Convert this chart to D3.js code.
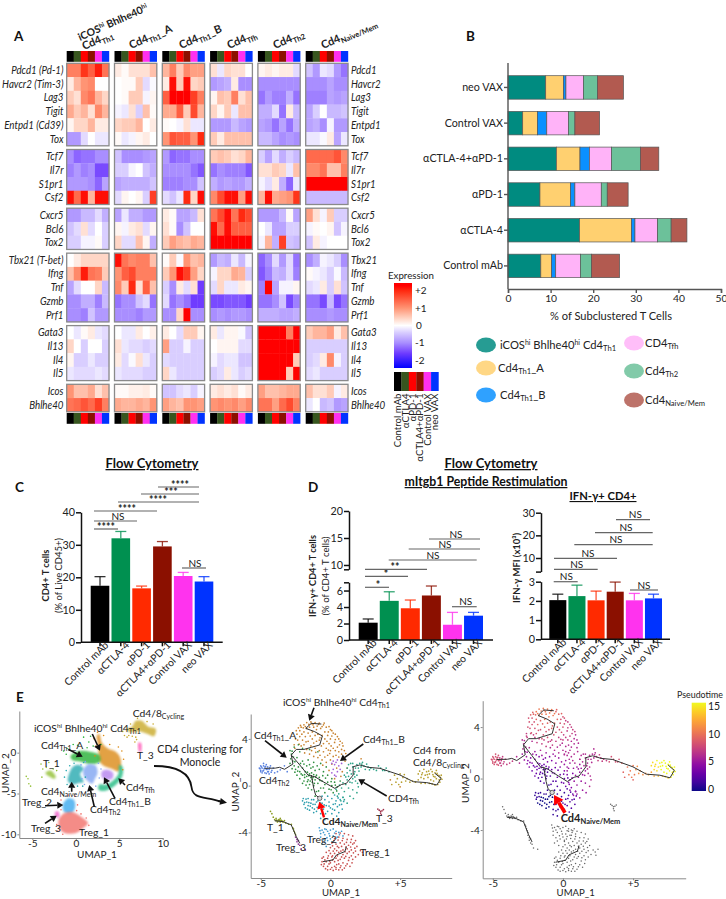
<!DOCTYPE html>
<html><head><meta charset="utf-8">
<script src="https://cdnjs.cloudflare.com/ajax/libs/d3/7.8.5/d3.min.js"></script>
<style>
html,body{margin:0;padding:0;background:#fff}
svg{display:block}
text{font-family:Lato,"Open Sans",sans-serif;fill:#222}
</style></head><body>
<svg id="c" width="726" height="899"></svg>
<script>
// ---------- A: heatmap ----------
const genes=["Pdcd1","Havcr2","Lag3","Tigit","Entpd1","Tox","Tcf7","Il7r","S1pr1","Csf2","Cxcr5","Bcl6","Tox2","Tbx21","Ifng","Tnf","Gzmb","Prf1","Gata3","Il13","Il4","Il5","Icos","Bhlhe40"];
const geneLabelsLeft=["Pdcd1 (Pd-1)","Havcr2 (Tim-3)","Lag3","Tigit","Entpd1 (Cd39)","Tox","Tcf7","Il7r","S1pr1","Csf2","Cxcr5","Bcl6","Tox2","Tbx21 (T-bet)","Ifng","Tnf","Gzmb","Prf1","Gata3","Il13","Il4","Il5","Icos","Bhlhe40"];
const geneGroupOf=[0,0,0,0,0,0,1,1,1,1,2,2,2,3,3,3,3,3,4,4,4,4,5,5];
const conditions=["Control mAb","αCTLA4","αPD-1","αCTLA4+αPD-1","Control VAX","neo VAX"];
const strip=["#000000","#37561f","#ff0000","#8b1000","#ff30f0","#0033ff"];
const clusters=["th1hi","th1a","th1b","tfh","th2","naive"];
const heatTh1Hi=[[1.2,1.2,1.9,1.5,2.1,1.3],[.2,.7,1,1.1,0,0],[.5,.3,1.1,1.3,.7,.4],[.8,.5,.7,.3,1.1,.7],[.1,.4,.4,.7,.2,.2],[-.9,-.9,-.3,0,-.2,-.2],[-1,-1.3,-1.2,-1.2,-1,-1],[-1.1,-.9,-1.1,-1,-1.5,-1.5],[-.9,-.9,-.9,-1,-1.3,-.8],[2.2,1.4,2.2,.7,2.2,2.2],[-.9,-.9,-.6,-.6,-.3,-.7],[-.5,-.3,.3,-.3,0,-.4],[-.4,-.4,-.1,-.1,.05,-.4],[0,.2,.4,.4,.4,.4],[.6,1.1,2.1,1.3,1.2,.5],[-.8,-.3,0,0,.4,-.6],[-1,-1,-.7,-.7,-1.1,-.6],[-1,-1,-1.1,-.5,-.9,-.9],[0,-.2,.05,.2,-.2,-.3],[.4,0,-.4,0,0,-.4],[.1,-.4,-.4,-.2,-.4,-.4],[-.2,-.3,-.3,-.3,-.2,-.3],[1,.6,.6,.8,.3,.6],[1.3,1.4,1.6,1.4,1.8,1.2]];
const heatTh1A=[[.2,.05,.3,.3,.3,.6],[0,.05,.05,.5,-.3,-.05],[0,.05,.5,.5,-.1,.1],[-.1,-.2,.3,-.4,.6,.05],[.4,.5,.5,.7,0,.2],[.05,-.2,-.1,.1,.2,0],[-.5,-1,-1,-1,-.9,-.8],[-.4,-.4,-.1,0,-.5,-.7],[-.8,-.7,-.7,-.7,-.7,-.5],[-.3,.1,0,.1,-.4,1.8],[-.8,-.2,-.7,-.7,-.9,-.9],[.1,-.1,.2,.3,-.3,.1],[.4,-.3,-.3,.6,.1,-.7],[2.2,1.3,1.1,1.2,1.2,.6],[1,1.5,1.7,1.2,1.2,1.2],[1.1,.5,2,.3,1.5,.6],[-1.2,-1,-1,-.5,-.3,-1.2],[-1,-1,-1,-1.1,-.9,-.9],[0,-.2,-.2,.2,0,.15],[.3,-.2,-.3,-.3,-.4,-.3],[.2,-.3,-.05,.3,-.2,-.4],[-.2,-.3,-.3,-.3,-.4,-.4],[.05,.05,.15,.15,.2,.05],[.8,.7,.7,.8,.7,1]];
const heatTh1B=[[.7,1.2,.5,1.1,.9,.9],[.2,2.2,.5,2.2,.4,.5],[1.5,2.3,2.3,2.3,1.8,1.2],[.8,.8,1.5,.5,1.7,.7],[.05,0,-.1,.3,-.2,-.2],[1,1.6,1.5,1.5,1,2],[-.9,-1.3,-1.2,-1.2,-1,-1],[-1,-1,-1,-1,-1.2,-1.4],[-1.1,-1.1,-1.1,-1,-1,-.5],[-.3,-.5,-.2,2,.4,2.2],[.2,.05,-.8,-.8,-.6,.3],[.3,.05,-1,-.5,0,0],[.5,.9,.7,.6,.8,.7],[.05,.5,-.05,1,.6,.7],[.5,1,2.2,1.8,.9,.4],[-.4,-1,.2,-.3,.3,-1.6],[-.3,-1.2,-1,-1.2,-1.6,-1.6],[-1,-1,.4,2.3,-1,-1],[.2,0,-.3,.5,.5,.1],[.9,-.4,-.4,-.1,-.4,-.4],[-.3,-.4,-.4,-.4,-.4,-.4],[.4,-.2,-.4,-.4,-.4,-.4],[-.5,-.5,-.3,-.2,-.4,-.1],[.9,.7,.6,1,1,.9]];
const heatTfh=[[.3,-.2,.4,.3,.3,0],[-.9,-.8,-.7,.2,-1,-1],[.1,.6,.5,1.2,.3,.6],[.4,.1,.5,-.2,.6,.6],[-.9,-.9,-.9,-.6,-.8,-.9],[.5,.2,.6,.6,.6,.6],[.5,.6,.5,.3,.4,.7],[-1.2,-1,-1.1,-1.1,-1.1,-1.4],[-.7,-.9,-.8,-.9,-.9,-.7],[1.1,1.7,2.2,2.2,.9,2.2],[1.3,1.7,2.2,1.3,2,1.7],[2.2,1.4,2.2,1.5,1.5,1.5],[2.3,2.3,2.3,2.3,2.3,2.3],[-.9,-.6,-.7,-.2,-.6,-.1],[-.1,.4,.4,.8,.7,-.4],[-.3,.4,-.2,-.2,.2,.1],[-1.5,-1.5,-1.4,-1.4,-1.4,-1.6],[-1,-.9,-1,-.9,-.9,-1],[.2,-.2,.1,.1,-.05,-.5],[0,.1,.1,.1,-.3,-.3],[-.1,-.3,-.2,-.2,-.5,-.5],[-.4,-.3,.2,-.2,-.4,-.3],[.2,.3,.2,.3,.05,.2],[1,1.1,1,1.1,.9,1.1]];
const heatTh2=[[.1,.2,.1,.2,.2,-.3],[-1,-1,-1,-1,-1,-1],[-1.2,-.9,-1.1,-1.1,-.7,-1.2],[-.7,-.7,-.3,-1.2,.2,-.6],[-.8,-.9,-1.2,-.8,-1.2,-.7],[-.6,-.6,-.8,-1,-.9,-1],[-.4,-.8,-.3,-.7,-.4,-.6],[.3,.3,.5,.4,-.2,.6],[-.1,-.3,.2,-.7,-1.3,-.2],[.7,2.2,.8,.9,1,1.9],[-.9,-.9,-.9,-.6,.05,-.8],[0,-.2,-.8,-.8,-.4,-.4],[-.1,.7,-.7,1.8,-.5,-.6],[-1.3,-1,-.3,-.9,-.3,-1.2],[-1.4,-1.1,-.6,-.7,-.3,-1.1],[-1.1,2.3,-.8,-.1,-.1,.1],[-1.2,-1.2,-1,-.5,-1.5,-1.1],[-.7,-.7,-.7,-.8,-.8,-.7],[2.3,2.3,2.3,2.3,1.2,2.3],[2.3,2.3,2.3,2.3,2.3,2.3],[2.3,2.3,2.3,2.3,2.3,.5],[2.3,2.3,2.3,2.3,.5,2.3],[.9,.6,.6,.7,.8,.8],[1.3,1.3,.9,1.4,1.7,1.2]];
const heatNaive=[[-.5,-.9,-.2,-.3,-.9,-1.2],[-1,-1,-1,-.8,-1,-1],[-1.1,-1.1,-1.1,-.8,-.9,-.8],[-.8,-.4,0,-.6,-.6,-.5],[-.8,-.7,-1,-.1,-.9,-.9],[-.2,-.2,-.05,.2,-.8,-.2],[1.4,1.4,1.4,1.4,1.6,1.1],[1.1,1.1,1.3,.6,.6,1.2],[2.3,2.3,2.3,2.3,2.3,2.3],[-.6,-.6,-.6,-.6,-.6,-.6],[.9,.3,-.1,.5,-.4,-.4],[-.1,.05,0,.1,-.5,-.1],[-.5,.2,-.1,0,0,0],[-1,-.7,-.1,-.2,-.4,-1],[.05,-.1,-.2,-.4,-.05,-.6],[-.3,-.2,.2,-.4,.3,-.5],[-1.2,-1.2,-1.5,-.6,-1.5,-1.2],[-1,-1,-1,-.9,-1,-1],[.5,.7,.7,.9,.2,.6],[-.4,-.4,-.4,-.4,-.4,-.4],[-.4,-.3,.2,1.1,-.1,-.4],[-.3,-.2,-.4,-.4,-.4,-.4],[.6,.3,.3,.5,-.1,.2],[-.2,0,-.6,-.5,-.9,-.8]];
const heatByCluster=[heatTh1Hi,heatTh1A,heatTh1B,heatTfh,heatTh2,heatNaive];
const exprTicks=[2,1,0,-1,-2];

// ---------- B: stacked bars ----------
const bCategories=["neo VAX","Control VAX","αCTLA-4+αPD-1","αPD-1","αCTLA-4","Control mAb"];
const bSubsets=["iCOS","Th1A","Th1B","Tfh","Th2","Naive"];
const bColors=["#008b80","#ffd070","#0a90ff","#ffb3f8","#6cc19a","#b25a50"];
const bICOS=[8.85,3.45,11.35,7.5,16.8,7.7];
const bTh1A=[4.15,3.45,5.55,7.2,12.2,2.55];
const bTh1B=[.6,2.2,2.2,1,.8,.95];
const bTfh=[4.1,5.1,5.2,6.2,5.3,5.8];
const bTh2=[3.3,1.5,6.8,1.4,3.2,2.6];
const bNaive=[6.1,5.8,4.3,4.9,3.7,6.6];

// ---------- C / D: flow cytometry ----------
const flowGroups=["Control mAb","αCTLA-4","αPD-1","αCTLA4+αPD-1","Control VAX","neo VAX"];
const flowColors=["#000000","#009050","#ff2a00","#8b1000","#ff33ee","#0033ff"];
const cMeans=[17.4,32,16.6,29.5,20.4,18.7];
const cErrTop=[20.2,34.1,17.3,31,21.5,20.2];
const dMeans=[2.1,4.75,3.85,5.4,1.85,2.95];
const dErrTop=[2.55,5.85,4.85,6.55,3.35,3.35];
const mfiMeans=[2.04,2.25,2.03,2.48,2.03,2.13];
const mfiErrTop=[2.35,2.82,2.51,2.98,2.39,2.35];

// ---------- E: UMAP (left) cluster outlines and points, in UMAP units ----------
const e1Orange=[[2.4,2.0],[2.7,2.3],[3.0,1.2],[3.7,.5],[4.6,.1],[5.1,-.6],[5.2,-1.6],[4.9,-2.3],[4.2,-2.0],[3.2,-1.6],[2.7,-1.0],[2.6,.3],[2.5,1.2]];
const e1Th1A=[[-.6,-.4],[.5,.2],[1.6,.1],[2.7,-.3],[2.8,-1.1],[1.8,-1.4],[.6,-1.1],[-.4,-.9]];
const e1Naive=[[-.8,-2.7],[-.3,-1.7],[.4,-1.5],[.9,-2],[.5,-2.6],[.9,-3.6],[.4,-3.7],[-.3,-3.9],[-.9,-3.5]];
const e1Th2=[[.9,-2],[1.5,-1.4],[2.3,-1.6],[2.5,-2.5],[2.2,-3.2],[1.9,-3.8],[1.3,-3.4],[.9,-2.8]];
const e1Th1B=[[3,-2.3],[3.6,-2.1],[4.3,-2.5],[4.2,-3.2],[3.5,-3.3],[3,-3]];
const e1Tfh=[[5,-1.5],[5.4,-1.8],[5.3,-3],[4.3,-4.2],[3.2,-4.7],[2.6,-4.5],[2.7,-3.9],[3.5,-3.9],[4.3,-3.4],[4.9,-2.6]];
const e1Treg2=[[-1.5,-6.4],[-.9,-5.6],[-.2,-5.8],[-.1,-6.8],[-.5,-7.4],[-1.3,-7.3]];
const e1Treg1=[[-2,-8.3],[-1.3,-7.4],[-.3,-7.3],[.8,-8],[1.4,-8.6],[.9,-9.2],[.1,-9.8],[-1.1,-9.9],[-1.8,-9.4]];
const e1T1=[[-3.5,-2.5],[-2.9,-2.2],[-2.3,-3],[-2.5,-3.2],[-3.1,-2.9]];
const e1Cycling=[[5.7,2.9],[6.4,3.1],[6.9,3.9],[7.6,3.9],[8.3,3.2],[9.2,2.9],[9,2],[8.2,2.3],[7.4,2.6],[6.3,2.5]];
const e1T3=[[7.2,1.2],[7.5,1.2],[7.5,.1],[7.3,.1]];
const e1Treg3=[[-2.4,-7.3],[-2,-7.2],[-1.9,-7.9],[-2.3,-7.9]];
const e1Blobs=[[e1Orange,"#dc8a12"],[e1Th1A,"#25b135"],[e1Naive,"#27a9b0"],[e1Th2,"#80a4f2"],[e1Tfh,"#1fba80"],[e1Th1B,"#b583ee"],[e1Treg2,"#3ba9ee"],[e1Treg1,"#f2706a"],[e1T1,"#92bf33"],[e1Cycling,"#c9aa2a"],[e1T3,"#ff55b5"],[e1Treg3,"#f05cc8"]];
const e1ScatterGreen=[[-1.4,.2],[-1,.5],[-.3,1],[.2,.9],[1.3,.6],[2,.8],[1.5,1.3],[-1.1,-.2],[.9,1.9],[1.7,2],[.2,-.1],[2.9,1]];
const e1ScatterOrange=[[2.1,1.7],[2.3,.8],[2.2,-.4],[5.3,.2],[5.5,-.8],[4.9,.7],[3.9,1],[3.2,2.1],[2.5,2.5],[5.4,-2.1]];
const e1ScatterTeal=[[-1.1,-2.2],[-.7,-1.6],[-.2,-1.3],[-1,-3.9],[.2,-4.1],[.8,-4.1],[1.1,-3],[-.5,-4.3],[-1.3,-3],[.9,-1.2]];
const e1ScatterBlue=[[.6,-1.5],[1.1,-1.1],[2.6,-1.3],[2.7,-3.1],[1,-3.9],[2.3,-4.1],[.7,-3.2],[2.9,-2]];
const e1ScatterT1=[[-4,-1.4],[-3.8,-2],[-3.4,-1.8],[-3.1,-1.2],[-2.6,-2],[-5.7,-2.9],[-5.5,-3.2],[-5.4,-3.8],[-5.2,-4.1],[-3.9,-3],[-2.2,-2.2]];
const e1ScatterCycling=[[5.4,2.6],[5.6,2.1],[5.9,1.9],[6.1,2.1],[6.5,2],[6.9,1.9],[7,1.6],[6.8,1.3],[8.2,3.8],[8.9,3.5],[7.1,4.2],[6.3,3.5]];
const e1ScatterTreg=[[-2.2,-8.8],[-2.1,-9.6],[-1.5,-10],[1.5,-8.9],[1.2,-8],[.6,-7.5],[-.1,-5.3],[-.8,-5.2],[-1.7,-5.8],[-1.7,-7],[.2,-6.4],[.1,-7.1]];

// ---------- E: Monocle UMAP points [x, y, pseudotime] ----------
const mICOS=[[-2.6,3.5,7],[-2.5,4,8],[-2.4,4.4,8],[-2.2,4.7,8],[-2.1,5,9],[-1.9,5.2,10],[-1.7,5.4,10],[-1.4,5.45,10],[-1.1,5.4,10],[-.8,5.35,10],[-.5,5.2,9],[-.3,5,9],[0,4.8,8],[.2,4.5,7],[.5,4.2,7],[.7,3.8,7],[.9,3.4,6],[1,3,6],[.8,2.7,6],[1,2.4,6],[-2.2,4.2,8],[-1.9,4.6,9],[-1.7,4.9,10],[-1.5,5,10],[-1.2,5,10],[-1,4.8,10],[-.7,4.9,10],[-.4,4.6,9],[-.2,4.3,8],[0,4,8],[.3,3.7,7],[.5,3.3,7],[.6,2.9,6],[-2,3.9,8],[-1.8,4.2,9],[-1.6,4.5,9],[-1.3,4.6,10],[-1.1,4.3,9],[-.9,4.4,9],[-.6,4.3,9],[-.4,4,8],[-.1,3.6,8],[.2,3.2,7],[.4,2.6,6],[-1.9,3.5,8],[-1.6,3.8,8],[-1.3,4,9],[-1,3.8,8],[-.8,3.9,9],[-.5,3.6,8],[-.3,3.2,7],[0,3,7],[.2,2.5,6],[-1.7,3.1,7],[-1.4,3.4,8],[-1.1,3.2,8],[-.8,3,7],[-.5,2.9,7],[-.2,2.6,6],[0,2.2,6],[-1.5,2.7,7],[-1.2,2.5,7],[-.9,2.4,6],[-.6,2.2,6],[-.3,2,6],[-2.3,4.95,9],[-1.95,4.95,9],[-1.55,5.25,10],[-1.25,5.2,10],[-.95,5.1,10],[-.6,5.05,10],[-.15,4.6,8],[.1,4.25,8],[.35,3.95,7],[-2.35,3.9,8],[-2.05,4.4,8],[-1.45,4.25,9],[-.75,4.1,9],[-.25,3.8,8],[.05,3.4,7],[.65,3.5,7],[.8,3.1,6],[-2.45,4.7,8],[-2.15,5.15,9],[-1.8,5.05,10],[-1.35,5.3,10],[-.85,5.25,10],[-.45,5.35,9],[-.1,5.05,9],[.1,4.7,8],[.35,4.4,7],[.6,4,7],[.85,3.65,7],[1.1,2.75,6],[1.05,2.1,6],[.6,2.45,6],[.35,3,7],[-.15,3.05,7],[-.65,3.4,8],[-1.2,3.65,8],[-1.75,3.75,8],[-2.25,3.55,8],[-2.55,3.2,7],[-.05,2.75,6],[-.4,2.45,6],[-.75,2.6,7],[-1.05,2.85,7],[-1.35,3,7],[-1.85,2.8,7],[-2.1,3.4,7],[.1,1.85,6],[.45,1.5,6],[.85,1.2,6],[1.2,1.5,6],[-.55,1.75,5],[-.1,1.3,5],[.3,.6,5],[.75,.8,5],[2.2,2.3,6],[5,-.1,9],[4.3,.5,9]];
const mTh1A=[[-2.9,3,6],[-2.8,2.7,6],[-2.85,2.3,6],[-2.7,2.1,5],[-2.9,1.9,5],[-2.6,1.7,5],[-2.5,1.4,4],[-2.3,1.6,4],[-2.2,1.2,4],[-2,1.5,4],[-2.1,1,3],[-1.8,1.2,3],[-1.7,.8,3],[-1.6,.5,3],[-1.5,1,3],[-1.4,.7,2],[-1.3,.3,2],[-1.5,.1,2],[-1.2,0,2],[-1.1,.5,2],[-1,.9,3],[-.8,.7,3],[-.9,.2,2],[-.6,.4,3],[-.4,.1,3],[-.7,-.2,2],[-1,-.5,1],[-1.1,-.9,1],[-1.9,.4,3],[-2.2,.6,3],[-2.4,.9,4],[-1.7,1.7,4],[-1.4,1.5,4],[-1.1,1.3,4],[-.8,1.4,4],[-.5,1.2,4],[-.2,.9,4],[-.3,1.6,5],[-.7,1.9,5],[-1.2,2,5],[-1.6,2.2,6],[-2,2.1,5],[-2.4,2.4,6],[-2.2,2.9,6],[-2,3.2,7],[-.2,.3,3],[.1,0,3],[.3,.3,4],[.1,.6,4],[-.1,-.3,3],[.5,-.1,4],[.2,-.6,3],[.7,.4,4],[-1.55,.85,3],[-1.35,1.1,3],[-1.65,.35,2],[-1.25,.7,2],[-1.45,.4,2],[-1.15,.2,2],[-2.75,2.95,6],[-2.65,2.45,6],[-2.55,2.05,5],[-2.35,1.25,4],[-2,.9,3],[-1.85,.7,3],[-2.6,3.3,7],[-2.3,3.5,8],[-1.5,3.1,8],[-.9,2.9,7],[-2.75,1.45,5],[-2.55,1.15,4],[-2,.2,3],[-1.75,.05,2],[-1.6,-.2,2],[-1.35,-.35,2],[-1.25,1.6,4],[-.95,1.7,4],[-.55,.85,3],[-.75,.45,3],[-.35,.65,3],[.05,.35,3],[-.5,-.2,2],[-.85,-.45,2],[-.4,-.6,2],[.05,-.35,3],[.35,.05,3],[.45,-.45,4],[-1.9,1.85,4],[-2.15,1.9,5],[-1.5,1.8,5],[-1.05,.75,2],[-1.2,.95,3],[-1.65,1.15,3],[-1.85,.95,3],[-1.3,.55,2]];
const mNaive=[[-2,-1.3,1],[-1.9,-1.6,1],[-1.8,-1.9,0],[-1.7,-1.4,1],[-1.6,-1.7,0],[-1.5,-2.1,0],[-1.4,-1.5,0],[-1.3,-1.9,0],[-1.2,-1.2,1],[-1.1,-1.6,0],[-1,-2.2,0],[-.9,-1.3,0],[-.8,-1.8,0],[-.7,-2.4,1],[-.6,-1.5,0],[-.5,-2,1],[-.4,-1.2,1],[-.3,-1.7,1],[-.2,-2.2,1],[-.1,-1.4,1],[0,-1.9,2],[.1,-1.1,1],[.2,-1.6,2],[.3,-2.1,2],[.4,-1.3,2],[.5,-1.8,2],[.6,-2.3,2],[.7,-1.2,2],[.8,-1.6,2],[.9,-1,2],[-.7,-2.8,1],[-.5,-2.5,1],[.1,-2.4,2],[-1.6,-1.1,1],[-1.2,-2.3,0],[-.2,-.9,2],[.3,-.8,2],[-.6,-.9,1],[-1.95,-1.1,1],[-1.75,-1.15,1],[-1.85,-1.45,1],[-1.55,-1.45,0],[-1.65,-2,0],[-1.35,-1.2,1],[-1.45,-1.75,0],[-1.25,-1.6,0],[-1.15,-2,0],[-1,-1.4,0],[-.95,-1.85,0],[-.75,-1.45,0],[-.65,-2,1],[-.45,-1.65,1],[-.35,-2.4,1],[-.1,-1.75,1],[.15,-2,2],[.35,-1.55,2],[.65,-1.65,2],[.55,-1.05,2],[.95,-1.35,2],[.85,-2,2],[.45,-2.6,2],[-.4,-2.9,1]];
const mTh2=[[-5.1,1.5,8],[-5,1.3,8],[-5,1.7,8],[-4.9,1.1,8],[-4.9,1.5,8],[-4.8,1.9,8],[-4.8,1.3,8],[-4.7,1.6,8],[-4.7,1.1,8],[-4.6,1.4,8],[-4.6,1.8,8],[-4.5,1.2,7],[-4.5,1.6,7],[-4.4,1,7],[-4.4,1.4,7],[-4.3,1.7,7],[-4.2,1.3,7],[-4.1,1.5,7],[-5,1.2,8],[-4.8,1.7,8],[-4.6,1.05,8],[-4,1.1,7],[-3.8,1.2,7],[-3.6,1.35,7],[-3.3,1.7,6],[-3.1,1.2,6],[-5.05,1.45,8],[-4.95,1.6,8],[-4.85,1.25,8],[-4.75,1.45,8],[-4.65,1.65,8],[-4.55,1.4,8],[-4.45,1.2,7],[-4.35,1.55,7],[-4.25,1.15,7]];
const mTh1B=[[.1,1.9,6],[.2,2.1,6],[.3,1.8,6],[.4,2,6],[.5,2.2,6],[.6,1.7,6],[.1,1.1,5],[.3,.9,5],[.5,1.2,5],[.4,.8,5],[.7,1.4,6],[.2,1.4,5],[.8,1.9,6]];
const mTfh=[[.4,-.3,4],[.6,-.7,4],[.8,-.2,5],[1,-.5,5],[1.1,.1,5],[1.3,-.2,5],[1.2,.5,5],[1.4,.3,5],[1.6,.6,5],[1.5,1,6],[1.7,1,6],[1.4,1.3,6],[1.6,1.6,6],[1.3,1.8,6],[1.8,1.5,6],[1.6,1.9,6],[1.9,1.8,6],[2.1,1.9,6],[2,1.5,6],[2.2,1.6,6],[2.4,1.7,7],[2.5,1.4,7],[2.7,1.6,7],[2.9,1.5,7],[2.3,2,6],[1.9,.9,6],[1.2,1.1,5],[1,.9,5],[1.3,.8,5],[1.8,.4,6],[2,-.1,6],[1.9,-.6,6],[1.4,-.9,5],[.9,-1,5],[.5,-.9,4],[1.2,-1.5,5],[3.1,1.4,7],[3.3,1.3,8],[3.6,1.5,8],[3.9,1.3,8],[4.2,1.2,9],[1.1,.75,5],[1.55,.25,5],[1.75,.75,6],[1.2,1.5,6],[1.45,1.9,6],[1.75,1.2,6],[2.05,1.25,6],[2.25,1.85,6],[2.6,1.85,7],[2.8,1.35,7],[1.6,-.35,5],[1.65,-1.1,5],[.75,-1.3,5],[1,-1.2,5],[1.95,.2,6],[.65,.05,4],[.9,.25,5],[3.45,1.7,8],[3.75,1.3,8],[4,1.5,8]];
const mCycling=[[4.6,.9,10],[4.8,.6,10],[5,1,10],[5.1,.3,10],[5.2,.7,11],[5.4,.4,11],[5.5,.6,11],[5.7,.3,11],[5.9,.4,11],[6.1,.3,12],[6.3,.5,12],[6.5,.2,12],[6.3,1,14],[6.5,.7,14],[6.6,1.1,14],[6.7,.6,14],[6.8,.9,14],[6.9,1.2,15],[7,.7,15],[7.1,1,15],[7.2,.5,15],[7.3,1.2,15],[7.4,.8,15],[7.5,1.1,15],[7.6,.6,15],[7.7,.9,15],[7.8,.5,15],[7.9,.7,15],[7.85,.3,15],[7.7,.1,15],[7.5,.05,14],[7.3,.15,14],[7.1,.2,13],[6.8,.2,13],[7.6,1.3,15],[7.2,1.4,15],[6.7,1.4,15],[4.4,.1,9],[6.95,.95,15],[7.05,1.25,15],[7.35,.95,15],[7.5,.75,15],[7.65,1.05,15],[7.8,.85,15],[8,.55,15],[7.95,.9,15],[6.55,.95,14],[6.4,1.25,14],[7.4,.4,15],[4.7,.3,10],[5.3,.95,11],[4.9,.1,10]];
const mT1=[[-4.1,-2.7],[-4,-2.9],[-3.9,-3],[-3.8,-3.1],[-3.7,-2.9],[-3.6,-3.1],[-3.5,-3],[-3.4,-3.1],[-3.3,-3],[-3.9,-2.8],[-4.2,-2.4],[-4.3,-2.2],[-3.6,-2.8],[-3.2,-3.2],[-3,-3.3],[-2.8,-3.3],[-2.7,-3.6],[-2.6,-3.9],[-2.5,-4.2],[-3.85,-2.95],[-3.75,-3],[-3.65,-2.95],[-3.55,-2.95],[-3.45,-3.05],[-2.65,-3.7],[-2.55,-4.05]];
const mTreg3=[[-2.5,-4.4],[-2.4,-4.6],[-2.4,-4.8],[-2.3,-4.7],[-2.3,-5],[-2.2,-5.1],[-2.1,-5.4],[-1.8,-5.5]];
const mT3=[[3.4,-2],[3.5,-2.1],[3.6,-2.2],[3.7,-2.15],[3.8,-2.05],[3.6,-2.35],[3.65,-2.5]];
const mTreg2=[[-.8,-3.6],[-.6,-3.8],[-.4,-3.7],[-.2,-3.9],[0,-3.8],[.2,-3.7],[.4,-3.9],[.6,-4],[.8,-3.9],[-.7,-4.1],[-.4,-4.2],[-.1,-4.1],[.2,-4.3],[.5,-4.4],[.9,-4.3],[-.5,-4.6],[-.2,-4.7],[.1,-4.8],[-.6,-5],[-.3,-5.2],[-.75,-3.85],[-.5,-4],[-.3,-3.75],[-.05,-4.3],[.3,-4.05],[.65,-4.2],[-.25,-4.45],[-.7,-4.4],[0,-4.55],[-.4,-4.85]];
const mTreg1=[[.4,-4.1],[.7,-4.05],[1,-4.1],[1.3,-4.2],[1.6,-4.3],[.3,-4.5],[.6,-4.4],[.9,-4.5],[1.2,-4.6],[1.5,-4.6],[1.8,-4.7],[.1,-4.9],[.4,-5],[.7,-4.9],[1,-5],[1.3,-5.1],[1.6,-5],[1.9,-5.2],[0,-5.3],[.3,-5.4],[.6,-5.3],[.9,-5.5],[1.2,-5.4],[1.5,-5.5],[1.8,-5.6],[2,-5.9],[2.3,-5.7],[2.5,-5.5],[-.3,-5.7],[0,-5.8],[.3,-5.8],[.6,-5.7],[.9,-5.9],[1.2,-5.8],[1.5,-6],[-.5,-6.1],[-.2,-6.2],[.1,-6.1],[.4,-6.2],[.7,-6.3],[1,-6.2],[1.3,-6.4],[1.6,-6.3],[-.6,-6.5],[-.3,-6.5],[0,-6.6],[.3,-6.5],[.6,-6.7],[.9,-6.6],[1.2,-6.7],[-.5,-6.9],[-.2,-6.9],[.1,-7],[.4,-7],[.7,-7],[1,-7.05],[-.2,-7.2],[.2,-7.25],[.6,-7.2],[1.4,-6.9],[-.4,-6.35],[.15,-6.35],[.55,-6.4],[-.1,-6.7],[.45,-6.75],[.25,-4.7],[.55,-4.65],[.85,-4.7],[1.15,-4.85],[1.45,-4.85],[1.7,-4.9],[.15,-5.15],[.5,-5.2],[.8,-5.2],[1.1,-5.25],[1.45,-5.25],[1.75,-5.35],[-.1,-5.55],[.2,-5.6],[.45,-5.55],[.75,-5.6],[1.05,-5.65],[1.35,-5.65],[1.65,-5.75],[-.15,-6],[.15,-6],[.5,-6],[.8,-6.1],[1.1,-6.05],[1.35,-6.15],[1.8,-6.1],[-.45,-6.7],[-.05,-6.45],[.3,-6.9],[.75,-6.85],[1.1,-6.85],[-.35,-7.1],[0,-7.15],[.4,-7.15],[.85,-7.2],[-.6,-6.2],[-.65,-6.75],[1.55,-6.6],[2.15,-5.55],[2.35,-5.95]];
const mColored=[[mICOS,"#c8822e"],[mTh1A,"#2f8f3f"],[mNaive,"#2a9dad"],[mTh2,"#5a82e0"],[mTh1B,"#a35fd8"],[mTfh,"#2fa58a"],[mCycling,"#b8a030"]];
const mUncolored=[[mT1,"#8a9a20"],[mTreg3,"#8a2f90"],[mT3,"#a0304a"],[mTreg2,"#3f9bd0"],[mTreg1,"#c9504f"]];
// Monocle trajectory
const trajMain=[[-4.72,1.48],[-3.95,1.5],[-3.65,1.57],[-3.29,1.4],[-2.69,1.85],[-2.81,2.62],[-2.45,3.1],[-1.9,3.1],[-1.37,3.28],[-.77,3.48],[-.58,4.25],[-1.13,4.62],[-1.77,4.9],[-1.37,5.33],[-.65,5.27]];
const trajMid=[[-2.81,2.62],[-2.2,1.77],[-1.61,.91],[-1.1,.75],[-.53,.34],[.31,-.23],[.8,.1],[1.15,.2],[1.63,.91],[1.63,1.62],[2.11,1.77],[2.71,1.57],[3.55,1.48],[4.99,.91],[5.95,.34],[6.91,.26],[7.63,.06],[7.94,.63],[7.5,1.05]];
const trajDown=[[-1.37,.91],[-1.2,-.23],[-1.06,-.8],[-.77,-1.08]];
const trajTreg=[[-.53,-6.5],[.19,-6.35],[.43,-5.93],[1.03,-5.64],[1.15,-5.21]];
const trajT=[[-4,-3],[-3.4,-3.08],[-2.81,-3.36],[-2.45,-4.36],[-2.2,-4.93]];
const trajectories=[trajMain,trajMid,trajDown,trajTreg,trajT];
const pseudoTicks=[0,5,10,15];

// ---------- helpers ----------
const svg=d3.select("#c");
const FS=10.5;
function fit(t,w){const l=t.node().getComputedTextLength(),s=parseFloat(t.style("font-size"));t.style("font-size",(s*w/l).toFixed(2)+"px");return t;}
function rich(sel,str,opts={}){
  const fs=opts.size||12;
  const t=sel.append("text").attr("x",opts.x||0).attr("y",opts.y||0)
    .style("font-size",fs+"px").style("font-weight",opts.weight||400)
    .style("font-style",opts.italic?"italic":"normal")
    .attr("text-anchor",opts.anchor||"start");
  if(opts.fill) t.style("fill",opts.fill);
  if(opts.transform) t.attr("transform",opts.transform);
  const parts=str.split(/(~[^~]+~|\^[^^]+\^)/).filter(s=>s);
  let shift=0;
  parts.forEach(p=>{
    let txt=p,target=0,size=fs;
    if(p[0]==="~"){txt=p.slice(1,-1);target=fs*.22;size=fs*.68;}
    if(p[0]==="^"){txt=p.slice(1,-1);target=-fs*.35;size=fs*.62;}
    t.append("tspan").attr("dy",(target-shift).toFixed(2)).style("font-size",size+"px").text(txt);
    shift=target;
  });
  return t;
}
function letter(s,x,y){svg.append("text").attr("x",x).attr("y",y).style("font-size","13.5px").style("font-weight",700).style("fill","#111").text(s);}
function arrow(x1,y1,x2,y2,color="#111",w=1.6,h=6,hw=3.6){
  const a=Math.atan2(y2-y1,x2-x1),bx=x2-h*Math.cos(a),by=y2-h*Math.sin(a);
  svg.append("line").attr("x1",x1).attr("y1",y1).attr("x2",bx).attr("y2",by).attr("stroke",color).attr("stroke-width",w);
  const nx=-Math.sin(a)*hw,ny=Math.cos(a)*hw;
  svg.append("path").attr("d",`M${x2},${y2}L${bx+nx},${by+ny}L${bx-nx},${by-ny}Z`).attr("fill",color);
}
function heading(str,cx,y,w){
  const t=svg.append("text").attr("x",cx).attr("y",y).attr("text-anchor","middle")
    .style("font-size","13px").style("font-weight",700).style("fill","#111").style("text-decoration","underline").text(str);
  return fit(t,w);
}
function vtitle(str,x,cy,w,bold){
  const t=svg.append("text").attr("transform",`translate(${x},${cy}) rotate(-90)`).attr("text-anchor","middle").style("font-size","10px").style("font-weight",bold?700:400).text(str);
  return fit(t,w);
}

// ---------- A ----------
const color=d3.scaleLinear().domain([-2.45,-1.6,-1,-.4,0,.4,1,2,2.3]).range(["#0000ff","#6f3cff","#a98eff","#d9ceff","#ffffff","#ffd6c6","#ff9474","#ff2a10","#ff0000"]).clamp(true);
const panelX=d3.scaleBand().domain(clusters).range([66.7,348]).paddingInner(.115);
const sampleX=d3.scaleBand().domain(d3.range(6)).range([0,panelX.bandwidth()]);
const rowY=d3.scaleLinear().domain([0,24]).range([63.3,63.3+24*13.75]);
const GAP=3.7;
const yRow=i=>rowY(i)+geneGroupOf[i]*GAP;
const groupIdx=d3.groups(d3.range(24),i=>geneGroupOf[i]).map(d=>d[1]);
const gA=svg.append("g");
clusters.forEach((c,ci)=>{
  const g=gA.append("g").attr("transform",`translate(${panelX(c)},0)`);
  heatByCluster[ci].forEach((row,ri)=>{
    g.selectAll(null).data(row).join("rect").attr("x",(d,j)=>sampleX(j)).attr("y",yRow(ri))
      .attr("width",sampleX.bandwidth()+.3).attr("height",rowY(1)-rowY(0)+.3).attr("fill",d=>color(d));
  });
  groupIdx.forEach(idx=>{
    g.append("rect").attr("x",0).attr("width",panelX.bandwidth()).attr("y",yRow(idx[0])).attr("height",idx.length*(rowY(1)-rowY(0)))
      .attr("fill","none").attr("stroke","#8a8a8a").attr("stroke-width",1.3);
  });
  [51,413].forEach(y=>g.selectAll(null).data(strip).join("rect").attr("x",(d,j)=>sampleX(j)).attr("y",y).attr("width",sampleX.bandwidth()+.2).attr("height",10.8).attr("fill",d=>d));
});
const geneY=i=>yRow(i)+(rowY(1)-rowY(0))/2+3.7;
gA.selectAll(null).data(geneLabelsLeft).join("text").attr("transform",(d,i)=>`translate(63.5,${geneY(i)}) scale(.93,1)`).attr("text-anchor","end").style("font-size",FS+"px").style("font-style","italic").text(d=>d);
gA.selectAll(null).data(genes).join("text").attr("transform",(d,i)=>`translate(351,${geneY(i)}) scale(.93,1)`).style("font-size",FS+"px").style("font-style","italic").text(d=>d);
const rot=(x,y,a=-23)=>`translate(${x},${y}) rotate(${a})`;
const TS=11;
rich(svg,"iCOS^hi^ Bhlhe40^hi^",{size:10.4,weight:700,transform:rot(80,41,-24)});
rich(svg,"Cd4~Th1~",{size:TS,weight:700,transform:rot(84,50)});
rich(svg,"Cd4~Th1~_A",{size:TS,weight:700,transform:rot(131,49)});
rich(svg,"Cd4~Th1~_B",{size:TS,weight:700,transform:rot(181,49)});
rich(svg,"Cd4~Tfh~",{size:TS,weight:700,transform:rot(229,49)});
rich(svg,"Cd4~Th2~",{size:TS,weight:700,transform:rot(275,49)});
rich(svg,"Cd4~Naive/Mem~",{size:TS,weight:700,transform:rot(323,49)});
letter("A",14,41);
// legend
fit(svg.append("text").attr("x",388).attr("y",279).style("font-size","10px").text("Expression"),46);
const exprY=d3.scaleLinear().domain([-2.45,2.45]).range([368,283]);
const defs=svg.append("defs");
defs.append("filter").attr("id","soft").attr("x","-20%").attr("y","-20%").attr("width","140%").attr("height","140%").append("feGaussianBlur").attr("stdDeviation",.8);
const lg=defs.append("linearGradient").attr("id","expr").attr("x1",0).attr("x2",0).attr("y1",1).attr("y2",0);
color.domain().forEach(v=>lg.append("stop").attr("offset",(v+2.45)/4.9).attr("stop-color",color(v)));
svg.append("rect").attr("x",394).attr("y",283).attr("width",18).attr("height",85).attr("fill","url(#expr)");
svg.selectAll(null).data(exprTicks).join("text").attr("x",d=>d===0?416:415).attr("y",d=>exprY(d)+3.5).style("font-size","10px").text(d=>d>0?"+"+d:d);
const legX=d3.scaleBand().domain(d3.range(6)).range([394,438.5]);
svg.selectAll(null).data(strip).join("rect").attr("x",(d,i)=>legX(i)).attr("y",372).attr("width",legX.bandwidth()+.2).attr("height",19).attr("fill",d=>d);
svg.selectAll(null).data(conditions).join("text").attr("text-anchor","end").style("font-size","9.6px")
  .attr("transform",(d,i)=>`translate(${legX(i)+legX.bandwidth()/2+3.4},393.5) rotate(-90)`).text(d=>d);

// ---------- B ----------
letter("B",466,41);
const bx=d3.scaleLinear().domain([0,50]).range([508,721]);
const by=d3.scaleBand().domain(bCategories).range([57.85,295.5]).paddingInner(.342).paddingOuter(.5);
const stackRows=bCategories.map((c,i)=>({cat:c,iCOS:bICOS[i],Th1A:bTh1A[i],Th1B:bTh1B[i],Tfh:bTfh[i],Th2:bTh2[i],Naive:bNaive[i]}));
const stacked=d3.stack().keys(bSubsets)(stackRows);
const gB=svg.append("g");
stacked.forEach((s,i)=>gB.selectAll(null).data(s).join("rect")
  .attr("x",d=>bx(d[0])).attr("width",d=>bx(d[1])-bx(d[0])).attr("y",d=>by(d.data.cat)).attr("height",by.bandwidth())
  .attr("fill",bColors[i]).attr("stroke","#555").attr("stroke-width",.7));
const gBx=gB.append("g").attr("transform","translate(0,289)").call(d3.axisBottom(bx).tickValues([0,10,20,30,40,50]).tickSize(4).tickPadding(2));
const gBy=gB.append("g").attr("transform","translate(508,0)").call(d3.axisLeft(by).tickSize(4).tickSizeOuter(0).tickPadding(1));
gBy.select(".domain").attr("d","M0,63V289");
[gBx,gBy].forEach(g=>{g.selectAll("path,line").attr("stroke","#555").attr("stroke-width",1.4);g.selectAll("text").style("font-family","Lato").style("fill","#222");});
gBx.selectAll("text").style("font-size","10.3px");
gBy.selectAll("text").style("font-size","10.7px");
fit(gB.append("text").attr("x",611).attr("y",320).attr("text-anchor","middle").style("font-size","11px").text("%  of Subclustered T Cells"),122);
const bLegend=[["iCOS^hi^ Bhlhe40^hi^ Cd4~Th1~",486,345,500],["Cd4~Th1~_A",486,368,498],["Cd4~Th1~_B",486,395,500],["CD4~Tfh~",634,343,645],["Cd4~Th2~",634,371,645],["Cd4~Naive/Mem~",634,400,645]];
bLegend.forEach((d,i)=>{
  svg.append("ellipse").attr("cx",d[1]).attr("cy",d[2]).attr("rx",10).attr("ry",7.5).attr("fill",bColors[i]).attr("opacity",.85);
  rich(svg,d[0],{x:d[3],y:d[2]+4,size:11.2});
});

// ---------- C / D ----------
function flow(cfg){
  const x=d3.scaleBand().domain(flowGroups).range(cfg.xr).paddingInner(cfg.pad).paddingOuter(0);
  const g=svg.append("g");
  const lower=cfg.lower, upper=cfg.upper;
  g.selectAll(null).data(cfg.means).join("rect").attr("x",(d,i)=>x(flowGroups[i])).attr("width",x.bandwidth())
    .attr("y",d=>lower(d)).attr("height",d=>lower(0)-lower(d)).attr("fill",(d,i)=>flowColors[i]);
  cfg.means.forEach((m,i)=>{
    const cx=x(flowGroups[i])+x.bandwidth()/2;
    g.append("line").attr("x1",cx).attr("x2",cx).attr("y1",lower(m)).attr("y2",lower(cfg.errs[i])).attr("stroke",flowColors[i]).attr("stroke-width",1.3).attr("opacity",.8);
    g.append("line").attr("x1",cx-5.5).attr("x2",cx+5.5).attr("y1",lower(cfg.errs[i])).attr("y2",lower(cfg.errs[i])).attr("stroke",flowColors[i]).attr("stroke-width",1.3).attr("opacity",.8);
  });
  const style=a=>{a.selectAll("path,line").attr("stroke","#111").attr("stroke-width",1.5);a.selectAll("text").style("font-size","10.8px").style("font-family","Lato").style("fill","#222");};
  const ax=g.append("g").attr("transform",`translate(${cfg.ax},0)`).call(d3.axisLeft(lower).tickValues(cfg.lowTicks).tickSize(5).tickPadding(1).tickSizeOuter(0).tickFormat(d=>cfg.hide.includes(d)?"":d));
  style(ax);
  if(upper){
    const au=g.append("g").attr("transform",`translate(${cfg.ax},0)`).call(d3.axisLeft(upper).tickValues(cfg.upTicks).tickSize(5).tickPadding(1).tickSizeOuter(0).tickFormat(d=>cfg.hide.includes(d)?"":d));
    style(au);
  }
  const ab=g.append("g").attr("transform",`translate(0,${lower(0)})`).call(d3.axisBottom(x).tickSize(4).tickSizeOuter(0));
  ab.select(".domain").attr("d",`M${cfg.ax},0H${cfg.axEnd}`);
  style(ab);
  ab.selectAll("text").attr("text-anchor","end").attr("dx",4).attr("dy",5).attr("x",0).attr("y",4).attr("transform","rotate(-45)").style("font-size","10.3px");
  cfg.sig.forEach(s=>{
    g.append("line").attr("x1",s[1]).attr("x2",s[2]).attr("y1",s[0]).attr("y2",s[0]).attr("stroke","#666").attr("stroke-width",1.2);
    const star=s[4].includes("*");
    g.append("text").attr("x",s[3]).attr("y",star?s[0]+1.8:s[0]-1.5).attr("text-anchor","middle").style("font-size",star?"10.5px":"10px").style("font-weight",star?700:400).text(s[4]);
  });
  return g;
}
letter("C",15,491.7);
heading("Flow Cytometry",152,468,93);
flow({xr:[90.7,213.3],pad:.105,ax:81,axEnd:222.7,means:cMeans,errs:cErrTop,
  lower:d3.scaleLinear().domain([0,40]).range([642.3,512.3]),lowTicks:[0,10,20,30,40],hide:[],
  sig:[[529,94,118,106,"****"],[521,94,137,118,"NS"],[511,94,157,127,"****"],[502,118,199,158,"****"],[494,141,199,171,"***"],[487,158,199,180,"****"],[568,182,206,195,"NS"]]});
vtitle("CD4+ T cells",49,575.5,52,true);
vtitle("(% of Live CD45+)",62,575.5,75,false);

letter("D",308,491.7);
heading("Flow Cytometry",491,468,93);
heading("mItgb1 Peptide Restimulation",486,486,163);
heading("IFN-γ+ CD4+",603,500,67);
flow({xr:[358.7,483],pad:.1,ax:349,axEnd:493,means:dMeans,errs:dErrTop,
  lower:d3.scaleLinear().domain([0,7]).range([640,582.3]),lowTicks:[0,2,4,6,7],hide:[7,9.2],
  upper:d3.scaleLinear().domain([9.2,20]).range([569.3,511]),upTicks:[9.2,10,15,20],
  sig:[[587.3,365,389,378,"*"],[576.3,365,408,386,"*"],[569.3,365,427,395,"**"],[560,388.7,476.7,433,"NS"],[549,408.7,480,445,"NS"],[539,429,480,456,"NS"],[606.7,452,476.7,465.7,"NS"]]});
vtitle("IFN-γ+ CD4+ T cells",316,576,82,true);
vtitle("(% of CD4+ T cells)",329,576,79,false);
flow({xr:[549.3,662],pad:.11,ax:541,axEnd:670,means:mfiMeans,errs:mfiErrTop,
  lower:d3.scaleLinear().domain([0,3]).range([639.3,581.7]),lowTicks:[0,1,2,3],hide:[4],
  upper:d3.scaleLinear().domain([4,30]).range([571.6,512.7]),upTicks:[4,10,20,30],
  sig:[[581.7,553.7,577.7,566.3,"NS"],[569.3,554,597.7,576.7,"NS"],[558.3,554,617,588,"NS"],[544.7,574.3,652.7,616,"NS"],[532.7,595,652.7,626,"NS"],[519.7,616,650,635.3,"NS"],[590,630,658,644,"NS"]]});
vtitle("IFN-γ MFI (x10³)",520,568,70,true);

// ---------- E ----------
letter("E",16,701.7);
function umapAxes(x,y,xt,yt,xf){
  const g=svg.append("g");
  const st=a=>{a.selectAll("path,line").attr("stroke","#8a8a8a").attr("stroke-width",1);a.selectAll("text").style("font-size","10px").style("font-family","Lato").style("fill","#222");};
  st(g.append("g").attr("transform",`translate(0,${y.range()[0]})`).call(d3.axisBottom(x).tickValues(xt).tickSize(2).tickPadding(0).tickSizeOuter(0).tickFormat(xf)));
  st(g.append("g").attr("transform",`translate(${x.range()[0]},0)`).call(d3.axisLeft(y).tickValues(yt).tickSize(2).tickPadding(1).tickSizeOuter(0).tickFormat(d=>d)));
}
const e1x=d3.scaleLinear().domain([-6.5,10]).range([19.3,162.7]);
const e1y=d3.scaleLinear().domain([-10.45,5.1]).range([838,711]);
umapAxes(e1x,e1y,[-5,0,5,10],[-10,-5,0],d=>d);
const blobLine=d3.line().x(d=>e1x(d[0])).y(d=>e1y(d[1])).curve(d3.curveCatmullRomClosed);
const gE1=svg.append("g");
e1Blobs.forEach(b=>gE1.append("path").attr("d",blobLine(b[0])).attr("fill",b[1]).attr("opacity",.8).attr("filter","url(#soft)"));
[[e1ScatterGreen,"#25b135"],[e1ScatterOrange,"#dc8a12"],[e1ScatterTeal,"#27a9b0"],[e1ScatterBlue,"#80a4f2"],[e1ScatterT1,"#92bf33"],[e1ScatterCycling,"#c9aa2a"],[e1ScatterTreg,"#f2706a"]].forEach(s=>
  gE1.selectAll(null).data(s[0]).join("circle").attr("cx",d=>e1x(d[0])).attr("cy",d=>e1y(d[1])).attr("r",.8).attr("fill",s[1]));
const LS=10.3;
[["Cd4/8~Cycling~",132.7,717],["iCOS^hi^ Bhlhe40^hi^ Cd4~Th1~",34,732],["Cd4~Th1~_A",41,749],["T_1",43,767],["T_3",137,759],["Cd4~Naive/Mem~",41,795],["Treg_2",22,806],["Treg_3",31,832],["Treg_1",79,836],["Cd4~Th2~",90,813],["Cd4~Th1~_B",109,805],["Cd4~Tfh~",126,791]].forEach(d=>rich(svg,d[0],{x:d[1],y:d[2],size:LS}));
[["CD4 clustering for",200,753],["Monocle",200,766]].forEach(d=>svg.append("text").attr("x",d[1]).attr("y",d[2]).attr("text-anchor","middle").style("font-size","10.6px").text(d[0]));
svg.append("text").attr("x",97).attr("y",858).attr("text-anchor","middle").style("font-size","10px").text("UMAP_1");
svg.append("text").attr("transform","translate(9,773) rotate(-90)").attr("text-anchor","middle").style("font-size","10px").text("UMAP_2");
[[92.3,734,100,750.7],[68.3,749.3,82.7,756.7],[71.7,791.7,71.7,781.7],[45,805.7,63.3,805],[45,823.3,56.7,815.7],[94.3,806.7,89.3,785],[115,798.3,104,777.3],[125,785,118.3,778.3]].forEach(a=>arrow(a[0],a[1],a[2],a[3]));
svg.append("path").attr("d","M154,766C180,766,190,775,191.5,787C193,800,205,796,222,802").attr("fill","none").attr("stroke","#111").attr("stroke-width",1.8);
arrow(218,801,227,802.7,"#111",1.8,7,3.5);

// Monocle panels
const e2x=d3.scaleLinear().domain([-5.72,8.7]).range([250.7,451.7]);
const e2y=d3.scaleLinear().domain([-7.9,6.13]).range([878,714]);
const e3x=d3.scaleLinear().domain([-5.72,8.75]).range([482.7,685.7]);
const e3y=d3.scaleLinear().domain([-7.75,6.05]).range([878.3,700.7]);
const fplus=d=>d>0?"+"+d:d;
umapAxes(e2x,e2y,[-5,0,5],[-4,0,4],fplus);
umapAxes(e3x,e3y,[-5,0,5],[-4,0,4],fplus);
const plasma=d3.scaleSequential(d3.interpolatePlasma).domain([0,15]);
const gE2=svg.append("g"),gE3=svg.append("g");
mColored.concat(mUncolored).forEach(s=>gE2.selectAll(null).data(s[0]).join("circle").attr("cx",d=>e2x(d[0])).attr("cy",d=>e2y(d[1])).attr("r",.85).attr("fill",s[1]));
mUncolored.forEach(s=>gE3.selectAll(null).data(s[0]).join("circle").attr("cx",d=>e3x(d[0])).attr("cy",d=>e3y(d[1])).attr("r",.75).attr("fill","#666"));
mColored.forEach(s=>gE3.selectAll(null).data(s[0]).join("circle").attr("cx",d=>e3x(d[0])).attr("cy",d=>e3y(d[1])).attr("r",.85).attr("fill",d=>plasma(d[2])));
const l2=d3.line().x(d=>e2x(d[0])).y(d=>e2y(d[1])),l3=d3.line().x(d=>e3x(d[0])).y(d=>e3y(d[1]));
trajectories.forEach(t=>{
  gE2.append("path").attr("d",l2(t)).attr("fill","none").attr("stroke","#333").attr("stroke-width",1);
  gE3.append("path").attr("d",l3(t)).attr("fill","none").attr("stroke","#333").attr("stroke-width",1);
});
gE2.append("circle").attr("cx",e2x(-.77)).attr("cy",e2y(-1.08)).attr("r",2.2).attr("fill","#ddd").attr("stroke","#333").attr("stroke-width",.7);
gE3.append("circle").attr("cx",e3x(-.77)).attr("cy",e3y(-1.08)).attr("r",2.2).attr("fill","#ddd").attr("stroke","#333").attr("stroke-width",.7);
[["iCOS^hi^ Bhlhe40^hi^ Cd4~Th1~",283,706],["Cd4~Th1~_A",254,739],["Cd4~Th2~",259,784],["Cd4~Th1~_B",363,743],["Cd4 from",413,754],["Cd4/8~Cycling~",413,766],["CD4~Tfh~",388,802],["T_3",376,822],["T_1",267,831],["Treg_2",307,843],["Treg_3",276,851],["Treg_1",360,856]].forEach(d=>rich(svg,d[0],{x:d[1],y:d[2],size:LS}));
rich(svg,"Cd4~Naive/Mem~",{x:322,y:825,size:LS,weight:700});
rich(svg,"Cd4~Naive/Mem~",{x:560.7,y:822,size:11,weight:700});
[[314,707.7,309.3,720.7],[265,740.7,286.7,757.7],[363.3,744,340,761],[386.7,796,358.3,779.3]].forEach(a=>arrow(a[0],a[1],a[2],a[3]));
arrow(324,817.3,319.3,801.7,"#ff0000",2.4,7,4.2);
arrow(565,812.7,554,795,"#ff0000",3.6,9,5.5);
[[341,896],[575.7,896]].forEach(d=>svg.append("text").attr("x",d[0]).attr("y",d[1]).attr("text-anchor","middle").style("font-size","9.6px").text("UMAP_1"));
[[239,791.7],[469,783]].forEach(d=>svg.append("text").attr("transform",`translate(${d[0]},${d[1]}) rotate(-90)`).attr("text-anchor","middle").style("font-size","10px").text("UMAP_2"));
// pseudotime legend
fit(svg.append("text").attr("x",677).attr("y",698).style("font-size","10px").text("Pseudotime"),46);
const pty=d3.scaleLinear().domain([0,15]).range([789,706.7]);
const lg2=defs.append("linearGradient").attr("id","pt").attr("x1",0).attr("x2",0).attr("y1",1).attr("y2",0);
d3.range(0,1.01,.1).forEach(t=>lg2.append("stop").attr("offset",t).attr("stop-color",d3.interpolatePlasma(t)));
svg.append("rect").attr("x",691.7).attr("y",702.7).attr("width",14.3).attr("height",88.3).attr("fill","url(#pt)");
svg.selectAll(null).data(pseudoTicks).join("text").attr("x",708).attr("y",d=>pty(d)+3.5).style("font-size","10.5px").text(d=>d);
</script></body></html>
